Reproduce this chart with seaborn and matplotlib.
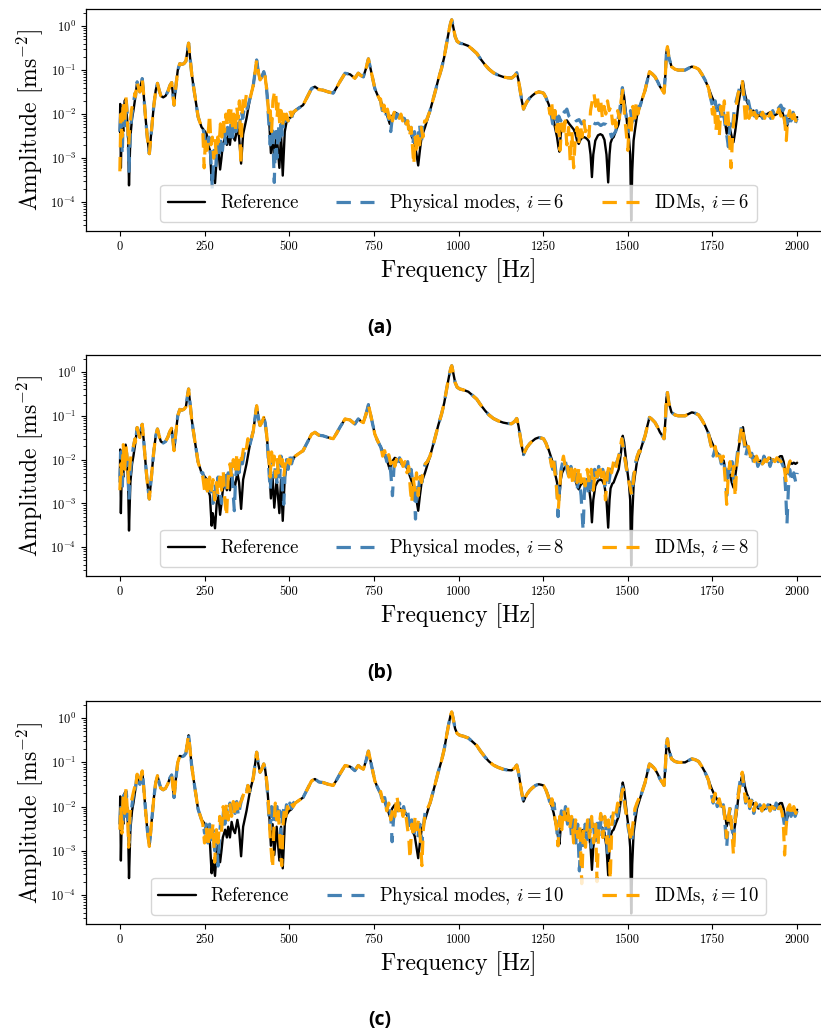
import numpy as np
import pandas as pd
import matplotlib
matplotlib.use("Agg")
import matplotlib.pyplot as plt
import seaborn as sns

# ---------------- data ----------------
REF_FREQ = [0, 1, 3, 6, 10, 14, 17, 21, 24, 27, 31, 36, 40, 46, 51, 55, 59, 63, 66, 70, 76, 81, 87, 93,
            100, 106, 111, 116, 121, 128, 135, 142, 148, 153, 160, 165, 171, 177, 183, 189, 195, 200, 203,
            207, 212, 217, 222, 231, 241, 256, 261, 266, 271, 274, 276, 281, 286, 291, 296, 300, 304, 311,
            316, 320, 325, 330, 335, 340, 347, 352, 358, 364, 374, 384, 394, 400, 404, 409, 414, 419, 425,
            429, 433, 437, 441, 446, 451, 456, 463, 467, 471, 476, 481, 487, 492, 500, 507, 517, 530, 541,
            556, 566, 576, 588, 600, 615, 630, 640, 650, 665, 680, 694, 704, 712, 719, 727, 734, 738, 743,
            753, 760, 768, 776, 783, 790, 797, 804, 812, 820, 827, 834, 842, 850, 856, 863, 871, 876, 881,
            886, 891, 901, 916, 931, 940, 950, 958, 965, 972, 977, 980, 984, 990, 996, 1004, 1015, 1029,
            1040, 1054, 1065, 1079, 1090, 1103, 1117, 1132, 1145, 1157, 1166, 1172, 1177, 1182, 1187, 1192,
            1197, 1202, 1210, 1217, 1227, 1237, 1245, 1251, 1258, 1266, 1274, 1281, 1286, 1291, 1295, 1298,
            1302, 1306, 1313, 1320, 1327, 1335, 1340, 1345, 1350, 1355, 1360, 1365, 1370, 1375, 1380, 1385,
            1390, 1394, 1398, 1404, 1412, 1419, 1425, 1431, 1437, 1442, 1446, 1449, 1454, 1458, 1465, 1473,
            1480, 1485, 1489, 1493, 1498, 1503, 1507, 1510, 1513, 1517, 1521, 1527, 1532, 1536, 1544, 1551,
            1558, 1564, 1570, 1580, 1588, 1595, 1602, 1607, 1611, 1614, 1617, 1621, 1629, 1639, 1649, 1659,
            1669, 1679, 1689, 1699, 1709, 1719, 1728, 1738, 1748, 1758, 1768, 1776, 1783, 1788, 1792, 1797,
            1802, 1807, 1812, 1817, 1822, 1827, 1832, 1836, 1840, 1845, 1851, 1856, 1861, 1866, 1871, 1876,
            1881, 1886, 1891, 1896, 1901, 1906, 1911, 1916, 1920, 1925, 1930, 1935, 1940, 1945, 1950, 1955,
            1960, 1964, 1968, 1972, 1976, 1980, 1985, 1990, 1995, 2000]
REF_AMP = [0.004, 0.017, 6e-4, 0.008, 0.004, 0.02, 0.022, 0.008, 0.004, 2.4e-4, 0.003, 0.008, 0.012, 0.025,
           0.054, 0.04, 0.032, 0.05, 0.064, 0.03, 0.008, 0.003, 1.26e-3, 0.004, 0.015, 0.035, 0.05, 0.035,
           0.026, 0.024, 0.026, 0.033, 0.045, 0.052, 0.016, 0.04, 0.1, 0.14, 0.135, 0.14, 0.16, 0.3, 0.41,
           0.2, 0.085, 0.045, 0.025, 0.0087, 0.0051, 0.0036, 0.002, 0.0015, 3.1e-4, 6e-4, 5e-4, 2.7e-4, 1e-3,
           1.5e-3, 5.5e-4, 1e-3, 2e-3, 3e-3, 2e-3, 3.5e-3, 2e-3, 4.5e-3, 3e-3, 2.5e-3, 5e-3, 3e-3, 7.5e-4,
           3.5e-3, 0.008, 0.022, 0.045, 0.1, 0.17, 0.09, 0.06, 0.07, 0.092, 0.07, 0.04, 0.018, 0.007, 1.3e-3,
           4e-3, 8e-4, 3.5e-3, 1.5e-3, 6e-4, 3.5e-3, 4e-4, 4e-3, 6.5e-3, 8e-3, 0.0087, 0.012, 0.014, 0.016,
           0.027, 0.038, 0.042, 0.036, 0.035, 0.032, 0.03, 0.04, 0.055, 0.085, 0.08, 0.065, 0.085, 0.075, 0.07,
           0.11, 0.18, 0.13, 0.085, 0.038, 0.028, 0.021, 0.016, 0.012, 0.009, 0.006, 0.009, 0.011, 0.01,
           0.009, 0.008, 0.0075, 0.006, 0.0043, 0.003, 0.0021, 0.0012, 6.8e-4, 0.0015, 0.003, 0.005, 0.012,
           0.032, 0.06, 0.11, 0.2, 0.41, 0.8, 1.2, 1.39, 1.0, 0.58, 0.45, 0.41, 0.39, 0.355, 0.3, 0.24, 0.18,
           0.13, 0.105, 0.087, 0.077, 0.07, 0.067, 0.066, 0.075, 0.087, 0.06, 0.035, 0.02, 0.013, 0.016, 0.019,
           0.023, 0.026, 0.03, 0.032, 0.031, 0.03, 0.024, 0.017, 0.011, 0.0072, 0.0045, 0.003, 0.0018, 0.0014,
           0.0035, 0.005, 0.0065, 0.0072, 0.006, 0.005, 0.0045, 0.0036, 0.0025, 0.0021, 0.0026, 0.0029, 0.003,
           0.0029, 0.0027, 0.0024, 0.0012, 3.7e-4, 0.0012, 0.0025, 0.0033, 0.0035, 0.0033, 0.0026, 0.0012,
           2.8e-4, 0.0012, 0.0022, 0.0028, 0.003, 0.0042, 0.006, 0.015, 0.035, 0.025, 0.013, 0.006, 0.003,
           0.0012, 3.8e-5, 5e-4, 0.0025, 0.0043, 0.009, 0.012, 0.015, 0.024, 0.035, 0.06, 0.092, 0.085, 0.071,
           0.055, 0.042, 0.035, 0.03, 0.08, 0.25, 0.34, 0.2, 0.12, 0.105, 0.1, 0.1, 0.1, 0.11, 0.12, 0.115,
           0.105, 0.08, 0.06, 0.04, 0.025, 0.017, 0.013, 0.011, 0.0095, 0.006, 0.0036, 0.005, 0.0045, 0.003,
           0.0023, 0.004, 0.008, 0.018, 0.03, 0.045, 0.055, 0.03, 0.02, 0.016, 0.013, 0.011, 0.012, 0.01,
           0.0103, 0.009, 0.0095, 0.0085, 0.0085, 0.0095, 0.01, 0.0105, 0.011, 0.0095, 0.01, 0.0095, 0.01,
           0.011, 0.012, 0.012, 0.009, 0.006, 0.0047, 0.006, 0.0075, 0.0085, 0.008, 0.0085, 0.008, 0.0085]

# Segments where the reduced models depart from the reference (frequency, amplitude)
PHYS6_SEGS = [
    [(0, 0.004), (3, 0.012), (7, 0.0012), (11, 0.015), (15, 0.004), (19, 0.02), (23, 0.008), (27, 5e-4),
     (31, 0.004), (36, 0.01), (41, 0.02), (45, 0.03)],
    [(245, 5e-3), (252, 2.5e-3), (258, 1.5e-3), (263, 3e-3), (268, 1.2e-3), (273, 2e-4), (278, 1.5e-3),
     (283, 6e-4), (288, 2.5e-3), (293, 1e-3), (298, 3e-3), (303, 1.5e-3), (308, 4e-3), (313, 2e-3),
     (318, 5e-3), (323, 2.5e-3), (328, 6e-3), (333, 3e-3), (338, 7e-3), (343, 4e-3), (348, 8e-3),
     (353, 5e-3), (358, 0.012), (363, 0.008), (368, 0.015), (374, 0.012)],
    [(436, 0.02), (440, 0.006), (444, 0.002), (448, 0.008), (452, 0.003), (456, 2.8e-4), (460, 0.004),
     (464, 0.001), (468, 0.006), (472, 0.002), (476, 0.008), (480, 0.003), (484, 0.008), (488, 0.005),
     (492, 0.009), (497, 0.007), (502, 0.01), (507, 0.008), (512, 0.011), (518, 0.012)],
    [(770, 0.02), (775, 0.012), (780, 0.015), (785, 0.01), (790, 0.012), (795, 0.006), (800, 0.004),
     (805, 0.009), (810, 0.012), (815, 0.008), (820, 0.01), (825, 0.007), (830, 0.009), (835, 0.008),
     (840, 0.008), (845, 0.006), (850, 0.007), (855, 0.004), (860, 0.005), (865, 0.002), (870, 0.004),
     (875, 0.002), (880, 0.003), (885, 0.006), (890, 0.002), (895, 0.006), (900, 0.008), (905, 0.007)],
    [(1265, 0.017), (1272, 0.012), (1278, 0.006), (1284, 0.012), (1290, 0.005), (1296, 0.009),
     (1302, 0.007), (1308, 0.012), (1314, 0.011), (1320, 0.013), (1326, 0.009), (1332, 0.008),
     (1340, 0.009), (1348, 0.007), (1356, 0.0075), (1364, 0.006), (1372, 0.007), (1380, 0.0065),
     (1388, 0.006), (1396, 0.0065), (1404, 0.006), (1412, 0.0062), (1420, 0.0055), (1428, 0.006),
     (1436, 0.0058), (1444, 0.005), (1452, 0.003), (1458, 0.0035), (1464, 0.004), (1470, 0.007),
     (1476, 0.012), (1484, 0.04), (1490, 0.015), (1496, 0.008), (1502, 0.004), (1508, 0.012),
     (1514, 0.005), (1520, 0.012), (1526, 0.008), (1532, 0.015)],
    [(1745, 0.022), (1752, 0.013), (1758, 0.02), (1764, 0.01), (1770, 0.016), (1776, 0.008), (1782, 0.012),
     (1788, 0.005), (1793, 0.003), (1797, 0.0018), (1802, 0.006), (1808, 0.004), (1814, 0.012),
     (1820, 0.02), (1826, 0.03), (1832, 0.045), (1838, 0.05), (1844, 0.025), (1850, 0.015), (1856, 0.02),
     (1862, 0.012), (1868, 0.016), (1874, 0.009), (1880, 0.012), (1886, 0.008), (1892, 0.011),
     (1898, 0.008), (1904, 0.01), (1910, 0.009), (1916, 0.011), (1922, 0.008), (1928, 0.012),
     (1934, 0.009), (1940, 0.012), (1946, 0.014), (1952, 0.016), (1958, 0.012), (1964, 0.015),
     (1970, 0.006), (1976, 0.01), (1982, 0.007), (1988, 0.011), (1994, 0.006), (2000, 0.008)],
]
IDM6_SEGS = [
    [(0, 5e-4), (3, 0.01), (6, 0.003), (10, 0.02), (14, 0.006), (18, 0.025), (22, 0.008), (26, 0.002),
     (30, 0.006), (34, 0.012), (40, 0.02), (45, 0.03)],
    [(245, 4e-3), (249, 6e-4), (253, 3e-3), (257, 1.5e-3), (261, 4e-3), (265, 0.01), (269, 2e-3),
     (273, 3e-3), (277, 1e-3), (281, 2.5e-3), (285, 1.2e-3), (289, 3e-3), (293, 2e-3), (297, 6e-3),
     (301, 3e-3), (305, 0.008), (309, 4e-3), (313, 0.01), (317, 5e-3), (321, 0.012), (325, 6e-3),
     (329, 0.015), (333, 5e-3), (337, 0.01), (341, 4e-3), (345, 0.015), (349, 8e-3), (353, 0.02),
     (357, 7e-4), (361, 0.01), (365, 0.025), (369, 0.015), (374, 0.03)],
    [(436, 0.025), (440, 0.008), (444, 0.012), (448, 0.004), (452, 0.02), (456, 0.03), (460, 0.035),
     (464, 0.008), (468, 0.02), (472, 0.006), (476, 0.012), (480, 0.005), (484, 0.01), (488, 0.006),
     (492, 0.01), (497, 0.007), (502, 0.012), (507, 0.009), (512, 0.011), (518, 0.012)],
    [(770, 0.022), (775, 0.01), (780, 0.016), (785, 0.009), (790, 0.013), (795, 0.008), (800, 0.012),
     (805, 0.007), (810, 0.011), (815, 0.009), (820, 0.01), (825, 0.008), (830, 0.01), (835, 0.007),
     (840, 0.009), (845, 0.006), (850, 0.007), (855, 0.003), (860, 0.005), (865, 0.0015), (868, 7e-4),
     (872, 0.003), (876, 0.0012), (880, 0.004), (885, 0.002), (890, 0.005), (895, 0.003), (900, 0.007),
     (905, 0.007)],
    [(1265, 0.017), (1270, 0.01), (1275, 0.02), (1280, 0.006), (1285, 0.012), (1290, 0.004), (1295, 0.008),
     (1300, 0.0015), (1305, 0.006), (1310, 0.003), (1315, 0.007), (1320, 0.002), (1325, 0.005),
     (1330, 8e-4), (1335, 0.004), (1340, 6e-4), (1345, 0.003), (1350, 0.005), (1355, 0.002),
     (1360, 0.006), (1365, 0.003), (1370, 0.007), (1375, 0.004), (1380, 0.005), (1385, 0.003),
     (1390, 0.012), (1395, 0.02), (1400, 0.03), (1405, 0.015), (1410, 0.025), (1415, 0.012),
     (1420, 0.02), (1425, 0.008), (1430, 0.015), (1435, 0.01), (1440, 0.02), (1445, 0.012),
     (1450, 0.015), (1455, 0.006), (1460, 0.01), (1465, 0.005), (1470, 0.012), (1475, 0.008),
     (1480, 0.02), (1485, 0.035), (1490, 0.01), (1495, 0.004), (1500, 0.0015), (1505, 0.008),
     (1510, 0.004), (1515, 0.015), (1520, 0.006), (1525, 0.02), (1530, 0.01), (1536, 0.018)],
    [(1745, 0.022), (1750, 0.01), (1755, 0.018), (1760, 0.004), (1765, 0.012), (1770, 0.003), (1775, 0.015),
     (1780, 0.008), (1785, 0.02), (1790, 0.006), (1795, 0.012), (1800, 0.003), (1805, 6e-4), (1810, 0.004),
     (1815, 0.01), (1820, 0.015), (1826, 0.03), (1832, 0.04), (1838, 0.055), (1843, 0.02), (1848, 0.006),
     (1853, 0.015), (1858, 0.008), (1863, 0.012), (1868, 0.007), (1874, 0.011), (1880, 0.008),
     (1886, 0.012), (1892, 0.009), (1898, 0.011), (1904, 0.008), (1910, 0.012), (1916, 0.009),
     (1922, 0.011), (1928, 0.008), (1934, 0.012), (1940, 0.01), (1946, 0.013), (1952, 0.009),
     (1958, 0.012), (1964, 0.006), (1968, 0.0025), (1972, 0.008), (1978, 0.012), (1984, 0.006),
     (1990, 0.01), (1996, 0.007), (2000, 0.009)],
]
PHYS8_SEGS = [
    [(0, 0.003), (3, 0.015), (7, 0.002), (11, 0.02), (15, 0.005), (19, 0.018), (23, 0.007), (27, 0.0012),
     (31, 0.005), (36, 0.012), (41, 0.022), (45, 0.03)],
    [(245, 5e-3), (250, 3e-3), (255, 1.8e-3), (260, 3e-3), (265, 1.5e-3), (270, 2.5e-3), (275, 1e-3),
     (280, 3e-3), (285, 1.5e-3), (290, 4e-3), (295, 2e-3), (300, 1e-3), (305, 3e-3), (310, 6e-3),
     (315, 2e-3), (320, 5e-3), (325, 3e-3), (330, 8e-3), (335, 1.5e-3), (338, 6.8e-4), (342, 4e-3),
     (347, 9e-3), (352, 5e-3), (357, 0.012), (362, 0.008), (368, 0.015), (374, 0.02)],
    [(436, 0.02), (440, 0.006), (444, 0.002), (448, 0.005), (452, 0.012), (456, 0.004), (460, 0.008),
     (464, 0.003), (468, 0.01), (472, 0.004), (476, 0.012), (480, 0.002), (484, 9.5e-4), (488, 0.005),
     (492, 0.01), (497, 0.006), (502, 0.012), (507, 0.008), (512, 0.011), (518, 0.012), (524, 0.013)],
    [(770, 0.02), (776, 0.013), (782, 0.015), (788, 0.009), (794, 0.012), (800, 0.005), (805, 0.0015),
     (810, 0.008), (815, 0.012), (820, 0.009), (826, 0.011), (832, 0.008), (838, 0.01), (844, 0.007),
     (850, 0.009), (855, 0.004), (860, 0.006), (865, 0.003), (870, 0.0015), (873, 4.4e-4), (877, 0.003),
     (882, 0.002), (887, 0.005), (892, 0.003), (897, 0.006), (902, 0.008), (908, 0.009)],
    [(1265, 0.017), (1272, 0.01), (1278, 0.006), (1284, 0.01), (1290, 0.003), (1294, 5e-4), (1298, 0.002),
     (1303, 0.006), (1308, 0.009), (1314, 0.011), (1320, 0.006), (1326, 0.004), (1332, 0.007),
     (1338, 0.003), (1344, 0.005), (1350, 0.002), (1356, 0.004), (1362, 0.0015), (1368, 2.4e-4),
     (1372, 0.002), (1378, 0.004), (1384, 0.0015), (1390, 0.005), (1396, 0.002), (1402, 0.006),
     (1408, 0.003), (1414, 0.007), (1420, 0.004), (1426, 0.006), (1432, 0.0025), (1438, 0.005),
     (1444, 0.003), (1450, 0.006), (1456, 0.005), (1462, 0.007), (1468, 0.009), (1474, 0.012),
     (1480, 0.02), (1484, 0.03), (1490, 0.012), (1496, 0.006), (1502, 0.004), (1508, 0.0025),
     (1512, 0.0015), (1516, 0.004), (1522, 0.008), (1528, 0.012), (1534, 0.016)],
    [(1745, 0.022), (1752, 0.012), (1758, 0.018), (1764, 0.01), (1770, 0.013), (1776, 0.008), (1782, 0.011),
     (1788, 0.005), (1792, 0.0015), (1797, 0.006), (1802, 0.004), (1808, 0.009), (1813, 0.003),
     (1818, 0.006), (1824, 0.015), (1830, 0.03), (1836, 0.06), (1842, 0.03), (1848, 0.012), (1854, 0.02),
     (1860, 0.01), (1866, 0.014), (1872, 0.008), (1878, 0.012), (1884, 0.007), (1890, 0.011),
     (1896, 0.008), (1902, 0.012), (1908, 0.009), (1914, 0.011), (1920, 0.007), (1926, 0.01),
     (1932, 0.008), (1938, 0.011), (1944, 0.009), (1950, 0.01), (1956, 0.008), (1962, 0.006),
     (1966, 0.002), (1970, 3.4e-4), (1974, 0.002), (1978, 0.006), (1984, 0.003), (1990, 0.005),
     (1996, 0.003), (2000, 0.005)],
]
IDM8_SEGS = [
    [(0, 0.002), (3, 0.008), (6, 0.004), (10, 0.022), (14, 0.006), (18, 0.02), (22, 0.01), (26, 0.003),
     (30, 0.008), (34, 0.015), (40, 0.02), (45, 0.03)],
    [(245, 4e-3), (250, 2e-3), (255, 3.5e-3), (260, 1.5e-3), (265, 4e-3), (270, 2e-3), (275, 3.5e-3),
     (280, 1.2e-3), (285, 3e-3), (290, 1.5e-3), (295, 4e-3), (300, 2e-3), (305, 6e-3), (310, 1.2e-3),
     (315, 5e-4), (320, 4e-3), (325, 8e-3), (330, 4e-3), (335, 0.01), (340, 5e-3), (345, 0.012),
     (350, 6e-3), (355, 0.014), (360, 0.01), (366, 0.02), (372, 0.015), (378, 0.03)],
    [(436, 0.025), (440, 0.01), (444, 0.004), (448, 0.015), (452, 0.006), (456, 0.012), (460, 0.004),
     (464, 0.01), (468, 0.005), (472, 0.012), (476, 0.006), (480, 0.01), (484, 0.004), (488, 0.008),
     (492, 0.006), (497, 0.01), (502, 0.008), (507, 0.012), (512, 0.01), (518, 0.012), (524, 0.013)],
    [(770, 0.022), (776, 0.012), (782, 0.016), (788, 0.01), (794, 0.013), (800, 0.008), (806, 0.012),
     (812, 0.007), (818, 0.011), (824, 0.008), (830, 0.01), (836, 0.007), (842, 0.009), (848, 0.005),
     (853, 0.007), (858, 0.002), (862, 0.001), (866, 0.004), (871, 0.002), (876, 0.005), (881, 0.0015),
     (886, 0.004), (891, 0.003), (896, 0.006), (902, 0.008), (908, 0.009)],
    [(1265, 0.017), (1270, 0.012), (1275, 0.007), (1280, 0.012), (1285, 0.005), (1290, 0.002), (1295, 7.5e-4),
     (1300, 0.003), (1305, 0.008), (1310, 0.012), (1315, 0.007), (1320, 0.009), (1326, 0.004),
     (1332, 0.007), (1338, 0.0025), (1344, 0.006), (1350, 0.003), (1356, 0.007), (1362, 0.003),
     (1368, 0.005), (1374, 0.0025), (1380, 0.006), (1386, 0.003), (1392, 0.006), (1398, 0.002),
     (1404, 0.006), (1410, 0.004), (1416, 0.008), (1422, 0.004), (1428, 0.007), (1434, 0.0012),
     (1440, 0.005), (1446, 0.008), (1452, 0.005), (1458, 0.009), (1464, 0.006), (1470, 0.01),
     (1476, 0.015), (1482, 0.03), (1488, 0.015), (1494, 0.008), (1500, 0.004), (1506, 0.0025),
     (1511, 0.0016), (1516, 0.003), (1522, 0.008), (1528, 0.012), (1534, 0.016)],
    [(1745, 0.022), (1752, 0.014), (1758, 0.02), (1764, 0.011), (1770, 0.015), (1776, 0.009), (1782, 0.012),
     (1787, 0.004), (1792, 9.5e-4), (1797, 0.005), (1802, 0.009), (1808, 0.004), (1813, 0.007),
     (1817, 0.0014), (1822, 0.008), (1828, 0.02), (1834, 0.045), (1838, 0.06), (1844, 0.025),
     (1850, 0.015), (1856, 0.02), (1862, 0.012), (1868, 0.015), (1874, 0.009), (1880, 0.012),
     (1886, 0.009), (1892, 0.011), (1898, 0.008), (1904, 0.01), (1910, 0.009), (1916, 0.011),
     (1922, 0.008), (1928, 0.01), (1934, 0.009), (1940, 0.011), (1946, 0.01), (1952, 0.009),
     (1958, 0.01), (1964, 0.005), (1968, 0.003), (1972, 0.006), (1978, 0.009), (1984, 0.01),
     (1990, 0.008), (1996, 0.009), (2000, 0.009)],
]
PHYS10_SEGS = [
    [(0, 0.004), (3, 0.012), (7, 0.003), (11, 0.018), (15, 0.006), (19, 0.022), (23, 0.008), (27, 0.0015),
     (31, 0.005), (36, 0.011), (41, 0.02), (45, 0.03)],
    [(245, 5e-3), (250, 2.5e-3), (255, 4e-3), (260, 1.5e-3), (265, 4e-3), (270, 1.5e-3), (275, 3e-3),
     (280, 1e-3), (285, 2.5e-3), (290, 4.5e-4), (294, 2e-3), (298, 5e-3), (302, 3e-3), (306, 8e-3),
     (310, 4e-3), (315, 0.01), (320, 5e-3), (325, 0.012), (330, 6e-3), (335, 0.011), (340, 7e-3),
     (345, 0.013), (350, 6e-3), (355, 0.01), (360, 0.015), (366, 0.02), (372, 0.018), (378, 0.03)],
    [(436, 0.02), (440, 0.006), (444, 0.003), (448, 0.01), (452, 0.004), (456, 0.012), (460, 0.005),
     (464, 0.01), (468, 0.004), (472, 0.008), (476, 0.002), (480, 0.006), (484, 0.009), (488, 0.006),
     (492, 0.011), (497, 0.008), (502, 0.012), (507, 0.009), (512, 0.012), (518, 0.013), (524, 0.014)],
    [(770, 0.02), (776, 0.012), (782, 0.016), (788, 0.009), (794, 0.012), (800, 0.006), (804, 0.0016),
     (808, 0.005), (814, 0.011), (820, 0.008), (826, 0.012), (832, 0.007), (838, 0.01), (844, 0.006),
     (850, 0.008), (856, 0.003), (862, 0.005), (868, 0.002), (874, 0.004), (880, 0.002), (886, 0.004),
     (892, 0.0015), (897, 0.004), (902, 0.008), (908, 0.009)],
    [(1265, 0.017), (1270, 0.012), (1276, 0.008), (1282, 0.012), (1288, 0.005), (1294, 0.0013),
     (1299, 0.004), (1304, 0.008), (1310, 0.005), (1316, 0.01), (1322, 0.004), (1328, 0.007),
     (1334, 0.002), (1340, 0.005), (1346, 0.0015), (1352, 0.004), (1357, 3.5e-4), (1362, 0.003),
     (1368, 0.0012), (1374, 0.004), (1380, 0.0018), (1386, 0.005), (1392, 0.0012), (1398, 0.004),
     (1404, 0.0015), (1410, 0.005), (1416, 0.002), (1422, 0.006), (1428, 0.002), (1434, 0.005),
     (1440, 0.0009), (1446, 0.004), (1452, 0.006), (1458, 0.004), (1464, 0.008), (1470, 0.006),
     (1476, 0.012), (1484, 0.028), (1490, 0.012), (1496, 0.006), (1502, 0.003), (1508, 0.002),
     (1512, 0.0015), (1516, 0.004), (1522, 0.008), (1528, 0.012), (1534, 0.016)],
    [(1745, 0.022), (1752, 0.012), (1758, 0.018), (1764, 0.01), (1770, 0.014), (1776, 0.008), (1782, 0.011),
     (1787, 0.004), (1792, 0.0012), (1797, 0.005), (1802, 0.009), (1807, 0.004), (1812, 0.0015),
     (1817, 0.006), (1822, 0.012), (1828, 0.025), (1834, 0.05), (1838, 0.06), (1843, 0.025),
     (1848, 0.012), (1854, 0.018), (1860, 0.009), (1866, 0.014), (1872, 0.007), (1878, 0.012),
     (1884, 0.008), (1890, 0.011), (1896, 0.008), (1902, 0.012), (1908, 0.009), (1914, 0.011),
     (1920, 0.008), (1926, 0.011), (1932, 0.008), (1938, 0.012), (1944, 0.009), (1950, 0.011),
     (1956, 0.008), (1962, 0.004), (1966, 0.003), (1970, 0.006), (1976, 0.01), (1982, 0.006),
     (1988, 0.011), (1994, 0.006), (2000, 0.008)],
]
IDM10_SEGS = [
    [(0, 0.003), (3, 0.01), (6, 0.0025), (10, 0.02), (14, 0.007), (18, 0.025), (22, 0.009), (26, 0.0012),
     (30, 0.007), (34, 0.013), (40, 0.021), (45, 0.03)],
    [(245, 4e-3), (250, 1.5e-3), (255, 3.5e-3), (260, 1.2e-3), (265, 3e-3), (270, 1.8e-3), (275, 4e-3),
     (280, 5.5e-4), (285, 3e-3), (290, 1.5e-3), (295, 6e-3), (300, 2.5e-3), (305, 0.01), (310, 4e-3),
     (315, 0.012), (320, 5e-3), (325, 0.011), (330, 6e-3), (335, 0.013), (340, 0.006), (345, 0.012),
     (350, 0.007), (355, 0.012), (360, 0.014), (366, 0.02), (372, 0.016), (378, 0.03)],
    [(436, 0.025), (440, 0.008), (444, 0.002), (448, 0.0008), (451, 4e-4), (455, 0.004), (459, 0.012),
     (463, 0.005), (467, 0.01), (471, 0.003), (475, 0.0008), (478, 4.6e-4), (482, 0.004), (486, 0.009),
     (490, 0.006), (495, 0.01), (500, 0.008), (506, 0.012), (512, 0.01), (518, 0.012), (524, 0.013)],
    [(770, 0.022), (776, 0.013), (782, 0.015), (788, 0.008), (794, 0.012), (800, 0.005), (806, 0.009),
     (812, 0.006), (818, 0.018), (824, 0.008), (830, 0.011), (836, 0.006), (842, 0.009), (848, 0.004),
     (853, 0.002), (857, 6.5e-4), (862, 0.004), (867, 0.002), (872, 0.006), (877, 0.003), (882, 0.005),
     (887, 0.002), (892, 4.6e-4), (896, 0.003), (902, 0.008), (908, 0.009)],
    [(1265, 0.017), (1270, 0.01), (1276, 0.015), (1282, 0.007), (1288, 0.004), (1294, 0.0013),
     (1299, 0.006), (1305, 0.003), (1310, 0.009), (1316, 0.005), (1322, 0.01), (1328, 0.003),
     (1334, 0.006), (1340, 0.0015), (1346, 0.005), (1352, 0.002), (1358, 0.004), (1364, 1.8e-4),
     (1369, 0.003), (1375, 0.0012), (1381, 0.005), (1387, 0.002), (1393, 0.006), (1399, 0.0015),
     (1405, 0.004), (1409, 2e-4), (1414, 0.003), (1420, 0.007), (1426, 0.002), (1432, 0.006),
     (1438, 0.0015), (1443, 0.005), (1448, 2.2e-4), (1453, 0.004), (1458, 0.008), (1464, 0.006),
     (1470, 0.012), (1476, 0.009), (1482, 0.02), (1486, 0.025), (1492, 0.01), (1498, 0.005),
     (1504, 0.003), (1510, 0.0016), (1515, 0.004), (1521, 0.009), (1527, 0.012), (1534, 0.016)],
    [(1745, 0.022), (1752, 0.013), (1758, 0.02), (1764, 0.011), (1770, 0.015), (1776, 0.009), (1782, 0.012),
     (1787, 0.005), (1792, 0.002), (1797, 0.006), (1802, 0.01), (1807, 0.003), (1812, 8e-4),
     (1817, 0.005), (1822, 0.01), (1828, 0.022), (1834, 0.045), (1838, 0.06), (1843, 0.025),
     (1848, 0.013), (1854, 0.02), (1860, 0.01), (1866, 0.015), (1872, 0.008), (1878, 0.012),
     (1884, 0.009), (1890, 0.011), (1896, 0.008), (1902, 0.011), (1908, 0.009), (1914, 0.012),
     (1920, 0.008), (1926, 0.01), (1932, 0.009), (1938, 0.012), (1944, 0.009), (1950, 0.01),
     (1956, 0.007), (1960, 0.003), (1963, 8e-4), (1967, 0.003), (1972, 0.009), (1978, 0.011),
     (1984, 0.006), (1990, 0.01), (1996, 0.007), (2000, 0.009)],
]

ORDERS = [6, 8, 10]
CAPTIONS = ["(a)", "(b)", "(c)"]
XTICKS = [0, 250, 500, 750, 1000, 1250, 1500, 1750, 2000]


def build_series(segs):
    """Reference points outside the segments + the read segment points."""
    f = np.asarray(REF_FREQ, float)
    a = np.asarray(REF_AMP, float)
    keep = np.ones(len(f), bool)
    extra_f, extra_a = [], []
    for seg in segs:
        sf = [p[0] for p in seg]
        sa = [p[1] for p in seg]
        keep &= ~((f >= min(sf)) & (f <= max(sf)))
        extra_f += sf
        extra_a += sa
    ff = np.concatenate([f[keep], extra_f])
    aa = np.concatenate([a[keep], extra_a])
    o = np.argsort(ff, kind="stable")
    return pd.DataFrame({"Frequency": ff[o], "Amplitude": aa[o]})


ref_df = pd.DataFrame({"Frequency": REF_FREQ, "Amplitude": REF_AMP})
phys = {6: build_series(PHYS6_SEGS), 8: build_series(PHYS8_SEGS), 10: build_series(PHYS10_SEGS)}
idms = {6: build_series(IDM6_SEGS), 8: build_series(IDM8_SEGS), 10: build_series(IDM10_SEGS)}

# ---------------- style ----------------
sns.set_style("ticks")
plt.rcParams.update({
    "font.family": "serif",
    "font.serif": ["cmr10", "DejaVu Serif"],
    "mathtext.fontset": "cm",
    "axes.formatter.use_mathtext": True,
    "axes.unicode_minus": False,
    "axes.edgecolor": "black",
    "axes.linewidth": 0.9,
    "xtick.color": "black",
    "ytick.color": "black",
    "text.color": "black",
    "axes.labelcolor": "black",
    "xtick.labelsize": 9,
    "ytick.labelsize": 9,
    "xtick.major.size": 3.5,
    "ytick.major.size": 3.5,
    "ytick.minor.size": 2,
})

W, H = 821, 1032
fig = plt.figure(figsize=(W / 100, H / 100), dpi=100)
# axes boxes in pixels: (top, bottom); left 86, right 831 (right spine outside the picture)
boxes = [(9, 231), (355, 576), (701, 924)]
cap_y = [328, 673, 1020]
left, right = 86, 831

for k, (order, (top, bot)) in enumerate(zip(ORDERS, boxes)):
    ax = fig.add_axes([left / W, 1 - bot / H, (right - left) / W, (bot - top) / H])
    sns.lineplot(data=ref_df, x="Frequency", y="Amplitude", ax=ax, color="black", lw=1.7,
                 estimator=None, sort=False, label="Reference")
    sns.lineplot(data=phys[order], x="Frequency", y="Amplitude", ax=ax, color="steelblue", lw=2.3,
                 linestyle=(0, (4.5, 3)), estimator=None, sort=False,
                 label=rf"Physical modes, $i = {order}$")
    sns.lineplot(data=idms[order], x="Frequency", y="Amplitude", ax=ax, color="orange", lw=2.3,
                 linestyle=(0, (4.5, 3)), estimator=None, sort=False,
                 label=rf"IDMs, $i = {order}$")
    ax.set_yscale("log")
    ax.set_xlim(-100, 2100)
    ax.set_ylim(2.2e-5, 2.45)
    ax.set_xticks(XTICKS)
    ax.set_xticklabels([str(t) for t in XTICKS])
    ax.set_xlabel("Frequency [Hz]", fontsize=17)
    ax.set_ylabel(r"Amplitude [ms$^{-2}$]", fontsize=17)
    for s in ["top", "right", "left", "bottom"]:
        ax.spines[s].set_visible(True)
    ax.legend(loc="lower center", ncol=3, fontsize=13.5, frameon=True, framealpha=0.8,
              handlelength=2.0, columnspacing=2.0)
    fig.text(380 / W, 1 - cap_y[k] / H, CAPTIONS[k], ha="center", va="center",
             fontsize=14, fontweight="bold", family=["Open Sans", "DejaVu Sans"])

fig.savefig("out.png", dpi=100)
